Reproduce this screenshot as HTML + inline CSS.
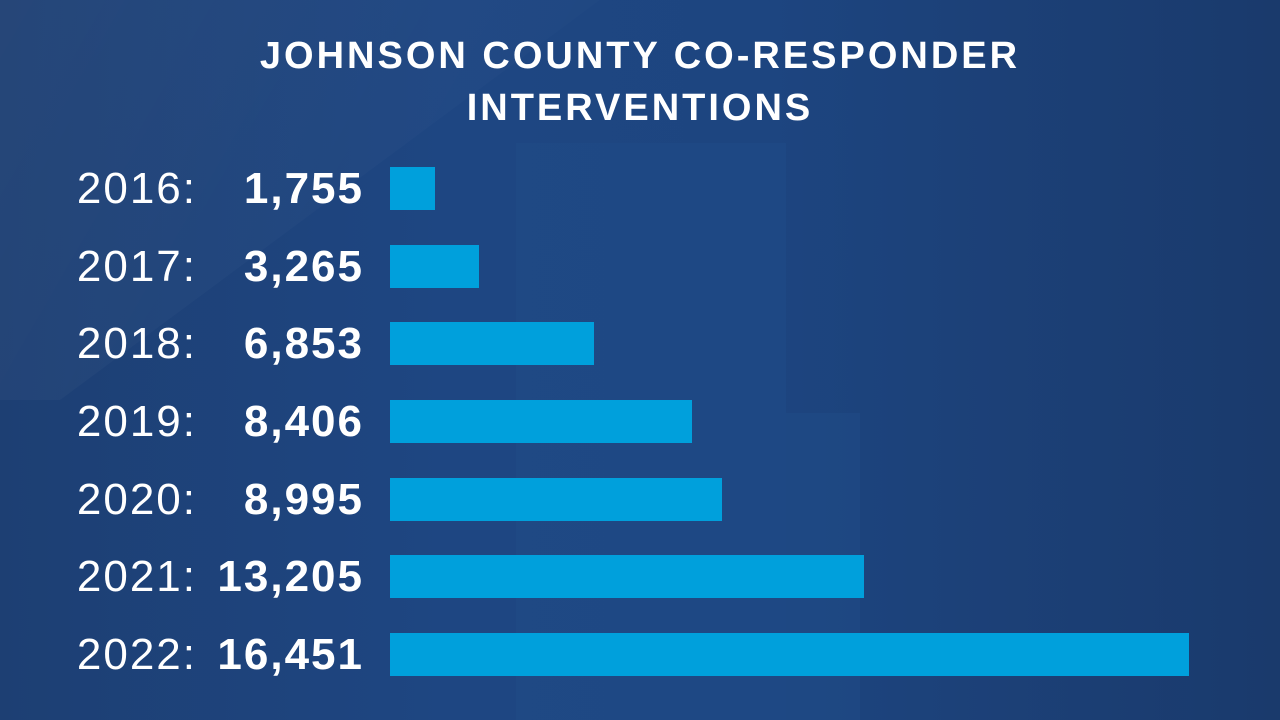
<!DOCTYPE html>
<html><head><style>
body{margin:0;width:1280px;height:720px;overflow:hidden;font-family:"Liberation Sans",sans-serif;}
.bg{position:absolute;inset:0;background:linear-gradient(90deg,#1d3f73 0%,#1e4682 35%,#1d4580 60%,#1a3a6c 100%);}
.p{position:absolute;}
.t{position:absolute;left:0;width:1280px;text-align:center;color:#fff;font-weight:bold;font-size:38px;letter-spacing:3px;}
.y{position:absolute;width:197px;left:0;text-align:right;color:#fff;font-size:44px;letter-spacing:2px;}
.n{position:absolute;width:364px;left:0;text-align:right;color:#fff;font-size:44px;font-weight:bold;letter-spacing:2px;}
.b{position:absolute;left:390px;height:43px;background:#00a0dc;}
</style></head><body>
<div class="bg"></div>
<div class="p" style="left:516px;top:143px;width:270px;height:577px;background:#204b87;opacity:.6"></div>
<div class="p" style="left:786px;top:413px;width:74px;height:307px;background:#204b87;opacity:.5"></div>
<div class="p" style="left:0;top:0;width:600px;height:400px;background:linear-gradient(120deg,rgba(255,255,255,0.04),rgba(255,255,255,0));clip-path:polygon(0 0,100% 0,10% 100%,0 100%)"></div>
<div class="t" style="top:35px">JOHNSON COUNTY CO-RESPONDER</div>
<div class="t" style="top:87px">INTERVENTIONS</div>

<div class="y" style="top:164px">2016:</div><div class="n" style="top:164px">1,755</div><div class="b" style="top:167px;width:45px"></div>
<div class="y" style="top:242px">2017:</div><div class="n" style="top:242px">3,265</div><div class="b" style="top:245px;width:89px"></div>
<div class="y" style="top:319px">2018:</div><div class="n" style="top:319px">6,853</div><div class="b" style="top:322px;width:204px"></div>
<div class="y" style="top:397px">2019:</div><div class="n" style="top:397px">8,406</div><div class="b" style="top:400px;width:302px"></div>
<div class="y" style="top:475px">2020:</div><div class="n" style="top:475px">8,995</div><div class="b" style="top:478px;width:332px"></div>
<div class="y" style="top:552px">2021:</div><div class="n" style="top:552px">13,205</div><div class="b" style="top:555px;width:474px"></div>
<div class="y" style="top:630px">2022:</div><div class="n" style="top:630px">16,451</div><div class="b" style="top:633px;width:799px"></div>
</body></html>
